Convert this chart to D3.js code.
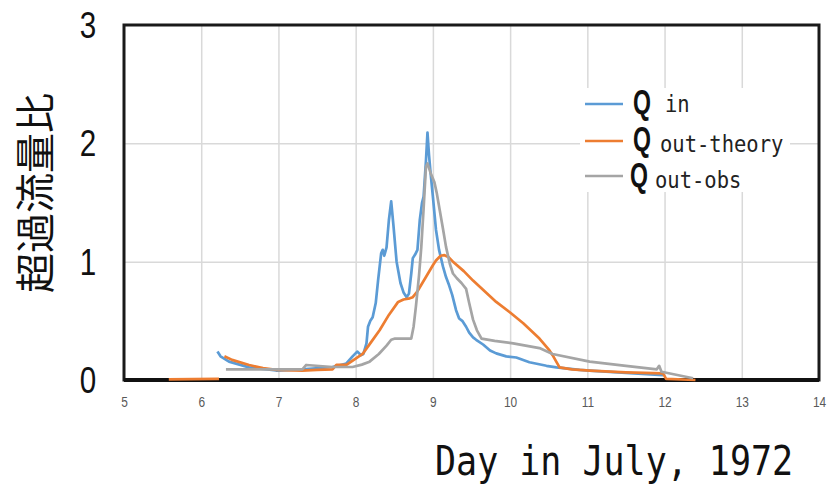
<!DOCTYPE html>
<html>
<head>
<meta charset="utf-8">
<script src="https://cdn.jsdelivr.net/npm/d3@7"></script>
<style>
	body { margin: 0; background: #fff; }
	svg { display: block; }
</style>
</head>
<body>
<div class="chart"></div>
<script>

// day in July, ratio
var qInDays = [6.21, 6.25, 6.36, 6.62, 6.97, 7.31, 7.7, 7.88, 7.96, 8.02, 8.07, 8.10, 8.14, 8.16, 8.19, 8.22, 8.26, 8.29, 8.33, 8.35, 8.37, 8.40, 8.43, 8.46, 8.49, 8.53, 8.58, 8.62, 8.66, 8.69, 8.72, 8.74, 8.77, 8.80, 8.83, 8.86, 8.88, 8.91, 8.93, 8.95, 8.97, 9.00, 9.04, 9.08, 9.13, 9.17, 9.21, 9.25, 9.30, 9.34, 9.38, 9.43, 9.47, 9.52, 9.56, 9.65, 9.74, 9.82, 9.95, 10.08, 10.25, 10.47, 10.6, 10.9, 11.03, 11.5, 11.98];
var qInValues = [0.24, 0.20, 0.155, 0.107, 0.08, 0.09, 0.11, 0.14, 0.20, 0.24, 0.21, 0.22, 0.31, 0.45, 0.50, 0.53, 0.65, 0.84, 1.07, 1.10, 1.05, 1.12, 1.35, 1.51, 1.30, 1.00, 0.82, 0.74, 0.70, 0.73, 0.90, 1.03, 1.06, 1.10, 1.35, 1.50, 1.55, 1.85, 2.09, 1.90, 1.75, 1.55, 1.27, 1.10, 0.96, 0.87, 0.80, 0.72, 0.59, 0.52, 0.50, 0.45, 0.40, 0.36, 0.34, 0.30, 0.25, 0.225, 0.20, 0.19, 0.15, 0.12, 0.107, 0.085, 0.08, 0.06, 0.04];

// null = gap in the line
var qTheoryDays = [5.58, 6.23, null, 6.30, 6.40, 6.62, 6.80, 6.97, 7.31, 7.50, 7.70, 7.75, 7.88, 8.00, 8.09, 8.20, 8.31, 8.43, 8.55, 8.62, 8.70, 8.74, 8.80, 8.91, 9.00, 9.04, 9.10, 9.15, 9.20, 9.26, 9.40, 9.52, 9.67, 9.82, 10.00, 10.17, 10.38, 10.51, 10.55, 10.64, 10.8, 11.03, 11.5, 11.98, 12.02, 12.40];
var qTheoryValues = [0.005, 0.01, null, 0.20, 0.17, 0.127, 0.10, 0.085, 0.08, 0.085, 0.09, 0.127, 0.127, 0.18, 0.22, 0.32, 0.42, 0.55, 0.66, 0.68, 0.69, 0.70, 0.75, 0.87, 0.97, 1.01, 1.05, 1.055, 1.04, 1.00, 0.92, 0.84, 0.75, 0.66, 0.57, 0.48, 0.35, 0.25, 0.21, 0.107, 0.09, 0.08, 0.065, 0.056, 0.01, 0.0];

var qObsDays = [6.32, 7.31, 7.36, 7.70, 7.96, 8.08, 8.18, 8.30, 8.40, 8.46, 8.51, 8.72, 8.75, 8.78, 8.82, 8.85, 8.88, 8.91, 8.93, 8.97, 9.02, 9.05, 9.09, 9.13, 9.17, 9.22, 9.26, 9.31, 9.37, 9.43, 9.47, 9.52, 9.57, 9.63, 9.80, 10.04, 10.38, 10.55, 11.03, 11.50, 11.90, 11.93, 11.96, 12.37];
var qObsValues = [0.09, 0.09, 0.127, 0.11, 0.11, 0.13, 0.155, 0.22, 0.29, 0.34, 0.35, 0.35, 0.45, 0.62, 0.88, 1.125, 1.45, 1.80, 1.83, 1.75, 1.67, 1.58, 1.43, 1.28, 1.125, 0.98, 0.90, 0.86, 0.82, 0.77, 0.65, 0.51, 0.42, 0.35, 0.33, 0.31, 0.27, 0.22, 0.155, 0.12, 0.09, 0.12, 0.07, 0.015];

var xTicks = [5, 6, 7, 8, 9, 10, 11, 12, 13, 14];
var yTicks = [0, 1, 2, 3];

var seriesNames = ['in', 'out-theory', 'out-obs'];
var seriesColors = ['#5b9bd5', '#ed7d31', '#a5a5a5'];

var chart = (function() {

	var width = 830, height = 484;
	var left = 124, right = 819, top = 25, bottom = 380;

	var init = function() {

		var svg = d3.select('.chart')
					.append('svg')
					.attr('width', width)
					.attr('height', height);

		var x = d3.scaleLinear().domain([5, 14]).range([left, right]);
		var y = d3.scaleLinear().domain([0, 3]).range([bottom, top]);

		drawGrid(svg, x, y);
		drawFrame(svg);
		drawSeries(svg, x, y);
		drawAxes(svg, x, y);
		drawLegend(svg);
	};

	var drawGrid = function(svg, x, y) {

		svg.append('g')
			.attr('transform', 'translate(0,' + bottom + ')')
			.call(d3.axisBottom(x).tickValues(xTicks.slice(1, -1)).tickSize(top - bottom).tickFormat(''))
			.call(function(g) {
				g.select('.domain').remove();
				g.selectAll('line').attr('stroke', '#d9d9d9').attr('stroke-width', 1.5);
			});

		svg.append('g')
			.attr('transform', 'translate(' + left + ',0)')
			.call(d3.axisLeft(y).tickValues(yTicks.slice(1, -1)).tickSize(left - right).tickFormat(''))
			.call(function(g) {
				g.select('.domain').remove();
				g.selectAll('line').attr('stroke', '#d9d9d9').attr('stroke-width', 1.5);
			});
	};

	var drawSeries = function(svg, x, y) {

		var all = [
			d3.zip(qInDays, qInValues),
			d3.zip(qTheoryDays, qTheoryValues),
			d3.zip(qObsDays, qObsValues)
		];

		var line = d3.line()
					.defined(function(d) { return d[0] !== null; })
					.x(function(d) { return x(d[0]); })
					.y(function(d) { return y(d[1]); });

		svg.selectAll('path.series')
			.data(all)
			.enter()
				.append('path')
				.attr('class', 'series')
				.attr('fill', 'none')
				.attr('stroke', function(d, i) { return seriesColors[i]; })
				.attr('stroke-width', 2.7)
				.attr('stroke-linejoin', 'round')
				.attr('d', line);
	};

	var drawFrame = function(svg) {

		svg.append('rect')
			.attr('x', left)
			.attr('y', top)
			.attr('width', right - left)
			.attr('height', bottom - top)
			.attr('fill', 'none')
			.attr('stroke', '#1a1a1a')
			.attr('stroke-width', 3);

		svg.append('line')
			.attr('x1', left).attr('x2', right)
			.attr('y1', bottom).attr('y2', bottom)
			.attr('stroke', '#111')
			.attr('stroke-width', 4);
	};

	var drawAxes = function(svg, x, y) {

		svg.append('g')
			.attr('transform', 'translate(0,' + (bottom + 27) + ')')
			.call(d3.axisBottom(x).tickValues(xTicks).tickSize(0).tickPadding(0))
			.call(function(g) {
				g.select('.domain').remove();
				g.selectAll('text')
					.attr('dy', 0)
					.attr('fill', '#595959')
					.attr('font-family', '"Liberation Sans", sans-serif')
					.attr('font-size', 14)
					.attr('transform', 'scale(0.85,1.1)');
			});

		// condensed look: squeeze the glyphs sideways
		svg.append('g')
			.selectAll('text')
			.data(yTicks)
			.enter()
				.append('text')
				.attr('transform', function(d) { return 'translate(88,' + (y(d) + 13) + ') scale(0.8,1)'; })
				.attr('text-anchor', 'middle')
				.attr('font-family', '"Liberation Sans", sans-serif')
				.attr('font-size', 37)
				.attr('fill', '#111')
				.text(function(d) { return d; });

		svg.append('text')
			.attr('transform', 'translate(33,193) rotate(-90)')
			.attr('text-anchor', 'middle')
			.attr('dominant-baseline', 'central')
			.attr('font-family', '"Noto Sans CJK JP", sans-serif')
			.attr('font-size', 40)
			.attr('fill', '#111')
			.text('超過流量比');

		svg.append('text')
			.attr('transform', 'translate(435,475) scale(1,1.18)')
			.attr('font-family', '"DejaVu Sans Mono", monospace')
			.attr('font-size', 35)
			.attr('fill', '#111')
			.text('Day in July, 1972');
	};

	var drawLegend = function(svg) {

		var rowY = [104, 141, 176];
		var qX = [633, 633, 630];
		var qBase = [114, 151, 187];
		var labelX = [665, 660, 655];
		var labelBase = [112, 152, 188];

		svg.append('rect')
			.attr('x', 580).attr('y', 88)
			.attr('width', 210).attr('height', 104)
			.attr('fill', '#fff');

		var rows = svg.append('g')
					.selectAll('g')
					.data(seriesNames)
					.enter()
						.append('g');

		rows.append('line')
			.attr('x1', 585).attr('x2', 623)
			.attr('y1', function(d, i) { return rowY[i]; })
			.attr('y2', function(d, i) { return rowY[i]; })
			.attr('stroke', function(d, i) { return seriesColors[i]; })
			.attr('stroke-width', 2.7);

		rows.append('text')
			.attr('transform', function(d, i) { return 'translate(' + qX[i] + ',' + qBase[i] + ') scale(0.66,1)'; })
			.attr('font-family', '"Liberation Sans", sans-serif')
			.attr('font-weight', 'bold')
			.attr('font-size', 35)
			.attr('fill', '#111')
			.text('Q');

		rows.append('text')
			.attr('transform', function(d, i) { return 'translate(' + labelX[i] + ',' + labelBase[i] + ') scale(1,1.15)'; })
			.attr('font-family', '"DejaVu Sans Mono", monospace')
			.attr('font-size', 20.5)
			.attr('fill', '#222')
			.text(function(d) { return d; });
	};

	return {
		'init': init
	};

})();

chart.init();
</script>
</body>
</html>
